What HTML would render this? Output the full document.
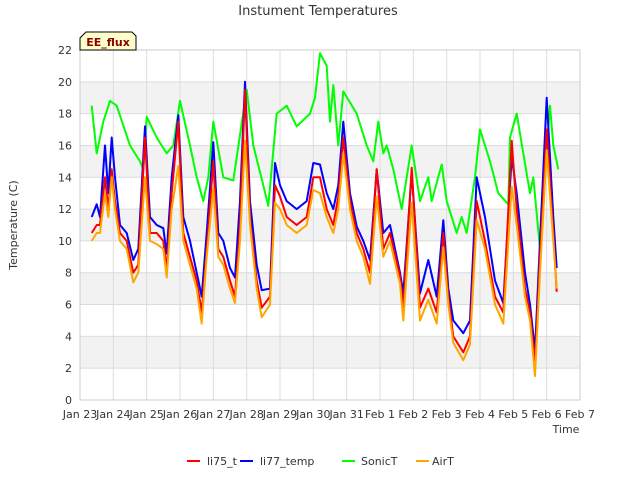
<!DOCTYPE html>
<html><head><meta charset="utf-8"><style>
body{margin:0;background:#fff;font-family:"Liberation Sans","DejaVu Sans",sans-serif;}
svg text{font-family:"DejaVu Sans","Liberation Sans",sans-serif;}
</style></head><body>
<svg id="chart" width="640" height="480" xmlns="http://www.w3.org/2000/svg"></svg>
<script>
const xTickLabels=["Jan 23","Jan 24","Jan 25","Jan 26","Jan 27","Jan 28","Jan 29","Jan 30","Jan 31","Feb 1","Feb 2","Feb 3","Feb 4","Feb 5","Feb 6","Feb 7"];
const yTickValues=[0,2,4,6,8,10,12,14,16,18,20,22];
const seriesNames=["li75_t","li77_temp","SonicT","AirT"];
const seriesColors=["#ff0000","#0000ff","#00ff00","#ffa500"];
const times=[0.35,0.5,0.6,0.75,0.85,0.95,1.05,1.2,1.4,1.6,1.75,1.95,2.1,2.3,2.5,2.6,2.75,2.95,3.1,3.3,3.5,3.65,3.8,4.0,4.15,4.3,4.5,4.65,4.8,4.95,5.1,5.3,5.45,5.7,5.85,6.0,6.2,6.5,6.8,7.0,7.2,7.4,7.6,7.75,7.9,8.1,8.3,8.5,8.7,8.9,9.1,9.3,9.6,9.7,9.95,10.2,10.45,10.7,10.9,11.05,11.2,11.5,11.7,11.9,12.15,12.45,12.7,12.95,13.1,13.35,13.5,13.65,13.8,14.0,14.2,14.3];
const airT=[10,10.5,10.5,13,11.5,14,12,10,9.5,7.4,8,14,10,9.8,9.5,7.7,12,14.7,10,8.5,7,4.8,9,13.3,9,8.5,7,6.1,10,16.3,11,7,5.2,6,12.4,12,11,10.5,11,13.2,13,11.5,10.5,12,15.5,12,10,9,7.3,12.8,9,10,7.3,5,12.4,5,6.3,4.8,9.6,6,3.6,2.5,3.5,11.3,9.5,6,4.8,13.4,11,6.5,5,1.5,8,15.7,10,7];
const li75=[10.5,11,11,14,12,14.5,12.5,10.5,10,8,8.5,16.5,10.5,10.5,10,8.2,13,17.5,10.5,9,7.5,5.5,9.5,15,9.5,9,7.5,6.5,11,19.5,11.5,7.5,5.8,6.5,13.5,12.8,11.5,11,11.5,14,14,12,11,12.8,16.5,12.5,10.5,9.5,8,14.5,9.5,10.5,7.8,5.8,14.6,5.8,7,5.5,10.5,6.5,4,3,4,12.5,10,6.5,5.5,16.3,12,7,5.5,2.3,9,17,10.5,6.8];
const li77=[11.5,12.3,11.5,16,13,16.5,14,11,10.5,8.8,9.5,17.2,11.5,11,10.8,9.2,14,17.9,11.5,10,8,6.5,10.5,16.2,10.5,10,8.3,7.7,12.5,20,12.5,8.5,6.9,7,14.9,13.5,12.5,12,12.5,14.9,14.8,13,12,13.5,17.5,13,10.9,10,8.8,14.5,10.5,11,8,6.7,14.3,6.7,8.8,6.5,11.3,7,5,4.2,5,14,11.5,7.5,6.1,15.3,13,8,6,3.1,10,19,11.5,8.3];
const sonicTimes=[0.35,0.5,0.7,0.9,1.1,1.5,1.8,1.9,2.0,2.3,2.6,2.8,3.0,3.3,3.5,3.7,3.85,4.0,4.3,4.6,5.0,5.2,5.5,5.65,5.9,6.2,6.5,6.9,7.05,7.2,7.4,7.5,7.6,7.75,7.9,8.3,8.6,8.8,8.95,9.1,9.2,9.4,9.65,9.95,10.2,10.45,10.55,10.85,11.0,11.3,11.45,11.6,11.85,12.0,12.3,12.55,12.85,12.9,13.1,13.3,13.5,13.6,13.8,13.95,14.1,14.2,14.35];
const sonicT=[18.5,15.5,17.5,18.8,18.5,16,15,14.5,17.8,16.5,15.5,16,18.8,16,14,12.5,14,17.5,14,13.8,19.5,16,13.5,12.2,18,18.5,17.2,18,19,21.8,21,17.5,19.8,16,19.4,18,16,15,17.5,15.5,16,14.5,12,16,12.5,14,12.5,14.8,12.5,10.5,11.5,10.5,14,17,15,13,12.3,16.5,18,15.5,13,14,9.5,14,18.5,16,14.5];
const NS="http://www.w3.org/2000/svg";
const svg=document.getElementById('chart');
const X0=80,X1=580,Y0=400,Y1=50;
function xs(d){return X0+d*(X1-X0)/15;}
function ys(v){return Y0-v*(Y0-Y1)/22;}
function mk(tag,attrs,parent){const e=document.createElementNS(NS,tag);for(const k in attrs)e.setAttribute(k,attrs[k]);(parent||svg).appendChild(e);return e;}
// bands
for(let i=0;i<yTickValues.length-1;i++){
  if(i%2===1){const b=mk('rect',{x:X0,y:ys(yTickValues[i+1]),width:X1-X0,height:ys(yTickValues[i])-ys(yTickValues[i+1]),fill:'#f2f2f2'});
  
  }
}
yTickValues.forEach(v=>{
  const l=mk('line',{x1:X0,x2:X1,y1:ys(v),y2:ys(v),stroke:'#dcdcdc','stroke-width':1});
  
  
  const t=mk('text',{x:X0-8,y:ys(v)+4,'text-anchor':'end','font-size':11,fill:'#333'});
  t.textContent=v;
  
  
});
xTickLabels.forEach((lab,i)=>{
  const l=mk('line',{x1:xs(i),x2:xs(i),y1:Y1,y2:Y0,stroke:'#dcdcdc','stroke-width':1});
  
  
  const t=mk('text',{x:xs(i),y:Y0+18,'text-anchor':'middle','font-size':11,fill:'#333'});
  t.textContent=lab;
  
  
});
const border=mk('rect',{x:X0,y:Y1,width:X1-X0,height:Y0-Y1,fill:'none',stroke:'#cccccc'});


function line(tArr,vArr,color,name){
  const n=Math.min(tArr.length,vArr.length);let d='';
  for(let i=0;i<n;i++)d+=(i?'L':'M')+xs(tArr[i]).toFixed(1)+','+ys(vArr[i]).toFixed(1);
  const p=mk('path',{d:d,fill:'none',stroke:color,'stroke-width':2,'stroke-linejoin':'round'});
  
  
}
line(sonicTimes,sonicT,seriesColors[2],'sonict-line');
line(times,li77,seriesColors[1],'li77-temp-line');
line(times,li75,seriesColors[0],'li75-t-line');
line(times,airT,seriesColors[3],'airt-line');
</script>
<svg width="640" height="480" style="position:absolute;left:0;top:0" xmlns="http://www.w3.org/2000/svg">
<text x="318" y="15" text-anchor="middle" font-size="13" fill="#333">Instument Temperatures</text>
<text transform="translate(17,225) rotate(-90)" text-anchor="middle" font-size="11" fill="#333">Temperature (C)</text>
<text x="566" y="433" text-anchor="middle" font-size="11" fill="#333">Time</text>
<g>
<path d="M86,32 L132,32 L136,36 L136,50 L80,50 L80,38 Z" fill="#ffffcc" stroke="#000" stroke-width="1"/>
<text x="108" y="46" text-anchor="middle" font-size="11" font-weight="bold" fill="#8b0000">EE_flux</text>
</g>
<g>
<g><line x1="187" x2="200" y1="461" y2="461" stroke="#ff0000" stroke-width="2"/><text x="207" y="465" font-size="11" fill="#333">li75_t</text></g>
<g><line x1="240" x2="253" y1="461" y2="461" stroke="#0000ff" stroke-width="2"/><text x="260" y="465" font-size="11" fill="#333">li77_temp</text></g>
<g><line x1="342" x2="355" y1="461" y2="461" stroke="#00ff00" stroke-width="2"/><text x="361" y="465" font-size="11" fill="#333">SonicT</text></g>
<g><line x1="416" x2="429" y1="461" y2="461" stroke="#ffa500" stroke-width="2"/><text x="432" y="465" font-size="11" fill="#333">AirT</text></g>
</g>
</svg>
</body></html>
